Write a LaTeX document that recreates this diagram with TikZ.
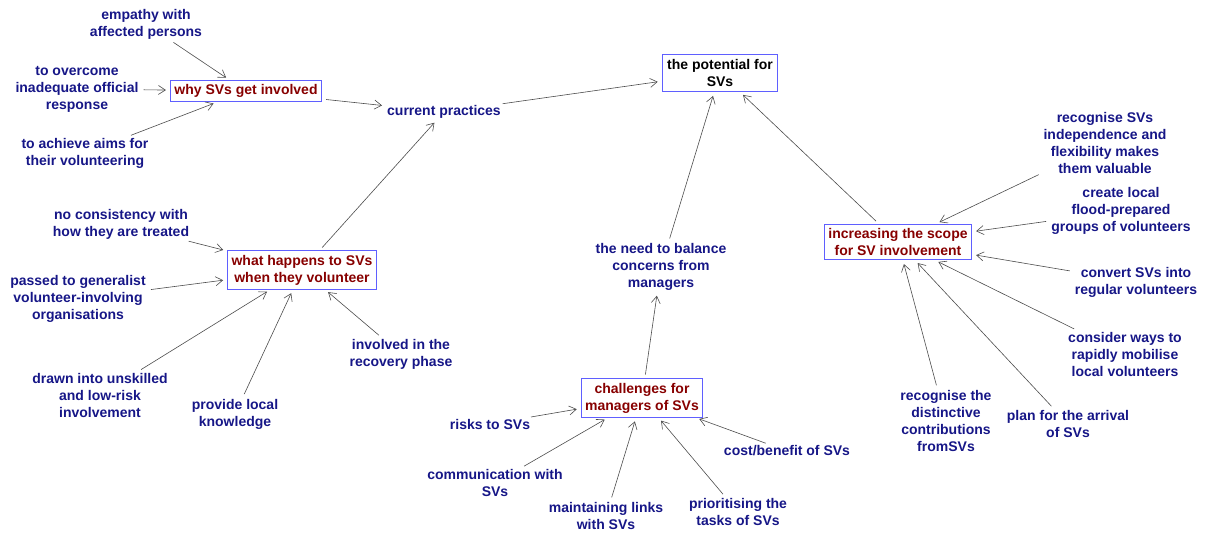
\documentclass[tikz,border=0pt]{standalone}
\usepackage{fontspec}
\setmainfont{Liberation Sans}
\usetikzlibrary{arrows.meta}
\definecolor{txtblue}{RGB}{22,22,135}
\definecolor{txtred}{RGB}{135,0,0}
\definecolor{boxblue}{RGB}{95,95,255}
\tikzset{
  idea/.style={text=txtblue, align=center, font=\bfseries\fontsize{14}{17}\selectfont, inner sep=1pt},
  topic/.style={idea, text=txtred, draw=boxblue, line width=1pt, inner xsep=4pt, inner ysep=4pt},
  link/.style={-{Straight Barb[length=7pt,width=9pt]}, draw=black!70, line width=0.6pt, shorten >=4pt, shorten <=4pt}
}
\begin{document}
\begin{tikzpicture}[x=1pt,y=-1pt]
    \useasboundingbox (0,0) rectangle (1207,535);

    \node[topic] (why) at (246,91) {why SVs get involved};
    \node[idea] (current) at (444,112) {current practices};
    \node[topic, text=black, inner xsep=5pt, inner ysep=5pt] (potential) at (720,73) {the potential for\\SVs};
    \node[topic] (what) at (302,270) {what happens to SVs\\when they volunteer};
    \node[idea] (need) at (661,267) {the need to balance\\concerns from\\managers};
    \node[topic] (challenges) at (642,398) {challenges for\\managers of SVs};
    \node[topic] (scope) at (898,242) {increasing the scope\\for SV involvement};

    \node[idea] (empathy) at (146,24) {empathy with\\affected persons};
    \node[idea] (overcome) at (77,89) {to overcome\\inadequate official\\response};
    \node[idea] (aims) at (85,153) {to achieve aims for\\their volunteering};

    \node[idea] (consistency) at (121,224) {no consistency with\\how they are treated};
    \node[idea] (passed) at (78,299) {passed to generalist\\volunteer-involving\\organisations};
    \node[idea] (drawn) at (100,395) {drawn into unskilled\\and low-risk\\involvement};
    \node[idea] (knowledge) at (235,414) {provide local\\knowledge};
    \node[idea] (recovery) at (401,354) {involved in the\\recovery phase};

    \node[idea] (risks) at (490,424) {risks to SVs};
    \node[idea] (communication) at (495,483) {communication with\\SVs};
    \node[idea] (links) at (606,516) {maintaining links\\with SVs};
    \node[idea] (tasks) at (738,512) {prioritising the\\tasks of SVs};
    \node[idea] (cost) at (787,451) {cost/benefit of SVs};

    \node[idea] (independence) at (1105,143) {recognise SVs\\independence and\\flexibility makes\\them valuable};
    \node[idea] (groups) at (1121,211) {create local\\flood-prepared\\groups of volunteers};
    \node[idea] (convert) at (1136,282) {convert SVs into\\regular volunteers};
    \node[idea] (mobilise) at (1125,354) {consider ways to\\rapidly mobilise\\local volunteers};
    \node[idea] (arrival) at (1068,424) {plan for the arrival\\of SVs};
    \node[idea] (distinctive) at (946,421) {recognise the\\distinctive\\contributions\\fromSVs};

    \draw[link] (empathy) -- (why);
    \draw[link] (overcome) -- (why);
    \draw[link] (aims) -- (why);
    \draw[link] (why) -- (current);
    \draw[link] (what) -- (current);
    \draw[link] (current) -- (potential);
    \draw[link] (need) -- (potential);
    \draw[link] (scope) -- (potential);
    \draw[link] (challenges) -- (need);

    \draw[link] (consistency) -- (what);
    \draw[link] (passed) -- (what);
    \draw[link] (drawn) -- (what);
    \draw[link] (knowledge) -- (what);
    \draw[link] (recovery) -- (what);

    \draw[link] (risks) -- (challenges);
    \draw[link] (communication) -- (challenges);
    \draw[link] (links) -- (challenges);
    \draw[link] (tasks) -- (challenges);
    \draw[link] (cost) -- (challenges);

    \draw[link] (independence) -- (scope);
    \draw[link] (groups) -- (scope);
    \draw[link] (convert) -- (scope);
    \draw[link] (mobilise) -- (scope);
    \draw[link] (arrival) -- (scope);
    \draw[link] (distinctive) -- (scope);
\end{tikzpicture}
\end{document}
